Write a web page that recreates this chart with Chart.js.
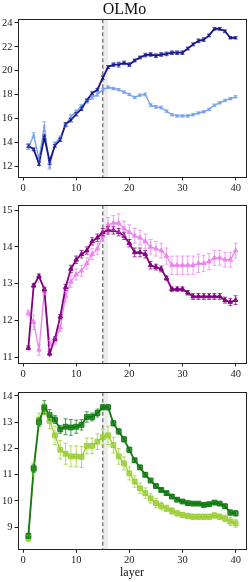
<!DOCTYPE html>
<html>
<head>
<meta charset="utf-8">
<script src="https://cdn.jsdelivr.net/npm/chart.js"></script>
<style>
  html, body { margin: 0; padding: 0; background: #fff; }
  #wrap { position: relative; width: 251px; height: 582px; }
  canvas { position: absolute; left: 0; }
</style>
</head>
<body>
<div id="wrap">
  <canvas id="c1" style="top:0px" width="251" height="195"></canvas>
  <canvas id="c2" style="top:195px" width="251" height="186"></canvas>
  <canvas id="c3" style="top:381px" width="251" height="201"></canvas>
</div>
<script>
// layers 1..40
const layers = Array.from({ length: 40 }, (_, i) => i + 1);
const xTicks = [0, 10, 20, 30, 40];

// panel 1 (blue)
const blueDark = [13.7, 13.4, 12.2, 14.4, 12.4, 13.7, 14.2, 15.5, 15.85, 16.35, 16.8, 17.5, 18.1, 18.4, 19.4, 20.3, 20.5, 20.5, 20.65, 20.5,
  20.85, 21.1, 21.3, 21.35, 21.25, 21.35, 21.4, 21.5, 21.5, 21.5, 21.85, 22.2, 22.5, 22.6, 22.95, 23.5, 23.5, 23.3, 22.75, 22.75];
const blueDarkErr = [0.15, 0.12, 0.15, 0.2, 0.25, 0.12, 0.15, 0.15, 0.15, 0.15, 0.15, 0.12, 0.12, 0.12, 0.15, 0.12, 0.15, 0.2, 0.15, 0.15,
  0.12, 0.12, 0.15, 0.15, 0.15, 0.15, 0.15, 0.15, 0.15, 0.15, 0.12, 0.12, 0.15, 0.15, 0.12, 0.12, 0.12, 0.12, 0.1, 0.1];
const blueLight = [13.5, 14.6, 12.6, 15.3, 11.95, 13.9, 14.4, 15.4, 16.15, 16.55, 17.0, 17.4, 17.75, 18.0, 18.4, 18.6, 18.5, 18.4, 18.2, 18.0,
  17.75, 17.95, 18.0, 17.1, 16.95, 16.9, 16.6, 16.3, 16.2, 16.2, 16.2, 16.3, 16.45, 16.55, 16.75, 17.1, 17.3, 17.5, 17.65, 17.8];
const blueLightErr = [0.12, 0.2, 0.3, 0.4, 0.2, 0.12, 0.12, 0.12, 0.15, 0.15, 0.15, 0.12, 0.15, 0.15, 0.12, 0.12, 0.1, 0.1, 0.1, 0.1,
  0.1, 0.1, 0.12, 0.12, 0.12, 0.12, 0.1, 0.1, 0.1, 0.1, 0.1, 0.1, 0.1, 0.1, 0.1, 0.1, 0.1, 0.1, 0.1, 0.1];

// panel 2 (purple)
const purpleDark = [11.25, 12.95, 13.2, 12.85, 11.1, 11.5, 12.1, 12.9, 13.4, 13.65, 13.8, 13.9, 14.15, 14.25, 14.4, 14.45, 14.45, 14.4, 14.3, 14.1,
  13.85, 13.85, 13.8, 13.5, 13.45, 13.4, 13.15, 12.85, 12.85, 12.85, 12.75, 12.65, 12.65, 12.65, 12.65, 12.65, 12.65, 12.55, 12.5, 12.55];
const purpleDarkErr = [0.05, 0.05, 0.06, 0.05, 0.06, 0.05, 0.06, 0.08, 0.1, 0.1, 0.1, 0.1, 0.1, 0.1, 0.1, 0.1, 0.1, 0.1, 0.1, 0.1,
  0.12, 0.12, 0.1, 0.1, 0.08, 0.08, 0.06, 0.06, 0.06, 0.06, 0.06, 0.08, 0.08, 0.08, 0.08, 0.08, 0.08, 0.08, 0.1, 0.12];
const purpleLight = [12.2, 11.95, 11.2, 12.8, 11.35, 11.45, 11.8, 12.65, 13.05, 13.25, 13.35, 13.55, 13.8, 13.95, 14.3, 14.6, 14.65, 14.65, 14.5, 14.4,
  14.3, 14.25, 14.15, 14.0, 13.95, 13.9, 13.75, 13.5, 13.5, 13.5, 13.5, 13.5, 13.55, 13.55, 13.6, 13.7, 13.7, 13.65, 13.65, 13.9];
const purpleLightErr = [0.08, 0.2, 0.15, 0.1, 0.1, 0.1, 0.1, 0.15, 0.15, 0.15, 0.15, 0.15, 0.15, 0.15, 0.15, 0.2, 0.2, 0.25, 0.2, 0.2,
  0.2, 0.2, 0.2, 0.2, 0.2, 0.2, 0.22, 0.25, 0.25, 0.25, 0.25, 0.25, 0.25, 0.22, 0.22, 0.2, 0.2, 0.2, 0.2, 0.2];

// panel 3 (green)
const greenDark = [8.67, 11.25, 13.0, 13.57, 13.28, 13.1, 12.73, 12.83, 12.8, 12.83, 12.9, 13.2, 13.2, 13.35, 13.57, 13.57, 12.96, 12.65, 12.35, 11.95,
  11.55, 11.28, 11.0, 10.78, 10.57, 10.42, 10.3, 10.17, 10.05, 9.98, 9.92, 9.9, 9.9, 9.85, 9.88, 9.94, 9.9, 9.8, 9.56, 9.53];
const greenDarkErr = [0.1, 0.15, 0.15, 0.25, 0.2, 0.15, 0.15, 0.3, 0.3, 0.25, 0.2, 0.2, 0.15, 0.15, 0.1, 0.1, 0.1, 0.1, 0.1, 0.1,
  0.08, 0.08, 0.08, 0.08, 0.06, 0.06, 0.06, 0.05, 0.05, 0.05, 0.05, 0.05, 0.05, 0.05, 0.05, 0.06, 0.06, 0.08, 0.1, 0.1];
const greenLight = [8.58, 11.2, 13.1, 13.5, 13.05, 12.5, 11.95, 11.8, 11.7, 11.7, 11.68, 12.1, 12.1, 12.26, 12.43, 12.5, 12.13, 11.7, 11.43, 11.05,
  10.74, 10.48, 10.3, 10.1, 9.92, 9.81, 9.72, 9.62, 9.53, 9.47, 9.43, 9.4, 9.4, 9.4, 9.4, 9.45, 9.4, 9.34, 9.22, 9.15];
const greenLightErr = [0.12, 0.25, 0.25, 0.2, 0.3, 0.35, 0.35, 0.4, 0.4, 0.4, 0.4, 0.3, 0.3, 0.3, 0.3, 0.35, 0.3, 0.3, 0.25, 0.25,
  0.22, 0.2, 0.2, 0.18, 0.18, 0.15, 0.12, 0.12, 0.1, 0.1, 0.1, 0.1, 0.1, 0.1, 0.1, 0.1, 0.1, 0.12, 0.15, 0.15];

// marker layer and shaded band
const cutLayer = 15;
const bandEnd = 16;

const FONT = "'Liberation Serif', 'DejaVu Serif', serif";
const INK = '#222';

// band + dashed line under the data, error bars and frame on top
const decorPlugin = {
  id: 'decor',
  beforeDatasetsDraw(chart) {
    const { ctx, chartArea: a, scales: { x } } = chart;
    const x0 = x.getPixelForValue(cutLayer), x1 = x.getPixelForValue(bandEnd);
    ctx.save();
    ctx.fillStyle = 'rgba(0,0,0,0.07)';
    ctx.fillRect(x0, a.top, x1 - x0, a.bottom - a.top);
    ctx.strokeStyle = '#666';
    ctx.lineWidth = 1.2;
    ctx.setLineDash([4, 2.5]);
    ctx.beginPath();
    ctx.moveTo(x0, a.top);
    ctx.lineTo(x0, a.bottom);
    ctx.stroke();
    ctx.restore();
  },
  afterDatasetsDraw(chart) {
    const { ctx, scales: { x, y } } = chart;
    ctx.save();
    for (let d = chart.data.datasets.length - 1; d >= 0; d--) {
      const ds = chart.data.datasets[d];
      if (!ds.errors) continue;
      ctx.strokeStyle = ds.borderColor;
      ctx.globalAlpha = 0.75;
      ctx.lineWidth = 1;
      ds.data.forEach((p, i) => {
        const px = x.getPixelForValue(p.x);
        const lo = y.getPixelForValue(p.y - ds.errors[i]);
        const hi = y.getPixelForValue(p.y + ds.errors[i]);
        ctx.beginPath();
        ctx.moveTo(px, lo); ctx.lineTo(px, hi);
        ctx.moveTo(px - 2, lo); ctx.lineTo(px + 2, lo);
        ctx.moveTo(px - 2, hi); ctx.lineTo(px + 2, hi);
        ctx.stroke();
      });
    }
    ctx.restore();
  },
  afterDraw(chart) {
    const { ctx, chartArea: a } = chart;
    ctx.save();
    ctx.strokeStyle = INK;
    ctx.lineWidth = 1;
    ctx.strokeRect(Math.round(a.left) + 0.5, Math.round(a.top) + 0.5,
      Math.round(a.right - a.left), Math.round(a.bottom - a.top));
    ctx.restore();
  }
};

function series(values, errors, color, fill, style, radius, width) {
  return {
    data: layers.map((l, i) => ({ x: l, y: values[i] })),
    errors: errors,
    borderColor: color,
    backgroundColor: fill,
    pointBackgroundColor: fill,
    pointBorderColor: color,
    borderWidth: width,
    pointStyle: style,
    pointRadius: radius,
    pointBorderWidth: 1,
    tension: 0
  };
}

function makePanel(id, datasets, yMin, yMax, yTicks, extra) {
  const opts = Object.assign({ title: null, xTitle: null, padTop: 0, xHeight: 18 }, extra);
  return new Chart(document.getElementById(id), {
    type: 'line',
    data: { datasets: datasets },
    plugins: [decorPlugin],
    options: {
      responsive: false,
      animation: false,
      layout: { padding: { top: opts.padTop, right: 2, left: 0, bottom: 0 } },
      plugins: {
        legend: { display: false },
        tooltip: { enabled: false },
        title: {
          display: !!opts.title,
          text: opts.title,
          color: '#111',
          font: { family: FONT, size: 16, weight: 'normal' },
          padding: { top: 0, bottom: 0 }
        }
      },
      scales: {
        x: {
          type: 'linear',
          min: -0.95, max: 41.95,
          afterBuildTicks: s => { s.ticks = xTicks.map(v => ({ value: v })); },
          afterFit: s => { s.height = opts.xHeight; },
          grid: { drawOnChartArea: false, drawTicks: true, tickLength: 3.5, color: INK },
          border: { display: false },
          ticks: { color: INK, padding: 1, maxRotation: 0, font: { family: FONT, size: 10.5 } },
          title: {
            display: !!opts.xTitle,
            text: opts.xTitle,
            color: '#111',
            font: { family: FONT, size: 12 },
            padding: { top: 0, bottom: 2 }
          }
        },
        y: {
          type: 'linear',
          min: yMin, max: yMax,
          afterBuildTicks: s => { s.ticks = yTicks.map(v => ({ value: v })); },
          afterFit: s => { s.width = 18; },
          grid: { drawOnChartArea: false, drawTicks: true, tickLength: 3.5, color: INK },
          border: { display: false },
          ticks: { color: INK, padding: 2, font: { family: FONT, size: 10.5 } }
        }
      }
    }
  });
}

makePanel('c1', [
  series(blueDark, blueDarkErr, '#16168c', '#16168c', 'crossRot', 1.8, 1.8),
  series(blueLight, blueLightErr, '#6f9ef0', '#6f9ef0', 'crossRot', 1.8, 1.3)
], 11.08, 24.31, [12, 14, 16, 18, 20, 22, 24], { title: 'OLMo' });

makePanel('c2', [
  series(purpleDark, purpleDarkErr, '#800080', 'rgba(128,0,128,0.75)', 'triangle', 2.6, 1.8),
  series(purpleLight, purpleLightErr, '#ee82ee', 'rgba(238,130,238,0.75)', 'triangle', 2.6, 1.3)
], 10.84, 15.14, [11, 12, 13, 14, 15], { padTop: 10 });

makePanel('c3', [
  series(greenDark, greenDarkErr, '#127a12', 'rgba(18,122,18,0.75)', 'rect', 3.4, 1.8),
  series(greenLight, greenLightErr, '#9acd32', 'rgba(154,205,50,0.75)', 'rect', 3.4, 1.3)
], 8.16, 14.14, [9, 10, 11, 12, 13, 14], { padTop: 11.3, xHeight: 32.7, xTitle: 'layer' });
</script>
</body>
</html>
